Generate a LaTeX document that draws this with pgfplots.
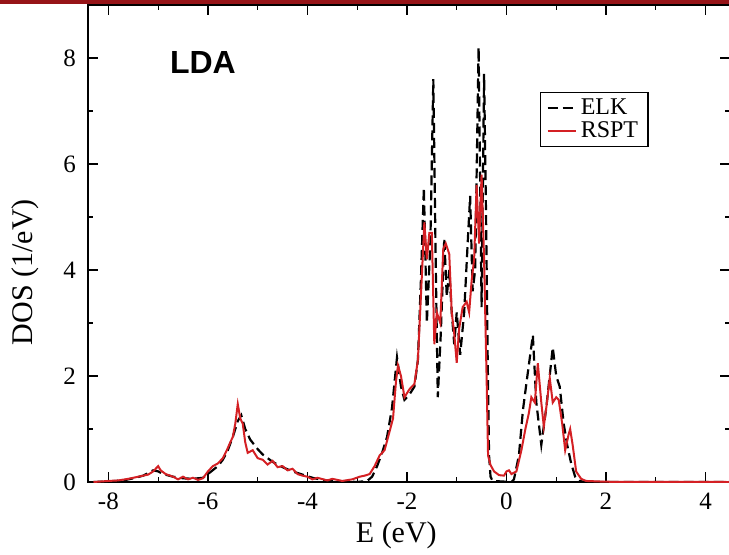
\documentclass[border=0pt]{standalone}
\usepackage{pgfplots}
\pgfplotsset{compat=1.18}
\usepackage{fontspec}
\setmainfont{Liberation Serif}
\newfontfamily\ldafont{Liberation Sans}
\definecolor{rsptred}{RGB}{212,32,36}
\definecolor{barred}{RGB}{150,20,24}
\begin{document}
\begin{tikzpicture}
\begin{axis}[
  at={(0,0)}, anchor=south west,
  scale only axis, width=321.2pt, height=238.5pt,
  xmin=-8.41, xmax=4.5, ymin=0, ymax=9,
  xtick={-8,-6,-4,-2,0,2,4}, xticklabels={-8,-6,-4,-2,0,2,4},
  ytick={0,2,4,6,8}, yticklabels={0,2,4,6,8},
  minor x tick num=1, minor y tick num=1,
  major tick length=5pt, minor tick length=2.5pt,
  tick style={black, line width=0.6pt},
  axis line style={line width=0.75pt},
  ticklabel style={font=\fontsize{12.5}{14}\selectfont},
  xticklabel style={yshift=-2pt},
  yticklabel style={xshift=-2.5pt},
  xlabel={E (eV)}, ylabel={DOS (1/eV)},
  every axis x label/.style={at={(rel axis cs:0.48,-0.111)}, anchor=center, font=\fontsize{15}{18}\selectfont},
  every axis y label/.style={at={(rel axis cs:-0.098,0.44)}, anchor=center, rotate=90, font=\fontsize{15}{18}\selectfont},
  legend style={at={(axis cs:0.67,7.36)}, anchor=north west, draw=black, line width=0.75pt,
    font=\fontsize{12}{13}\selectfont, inner xsep=3pt, inner ysep=1pt, row sep=-2pt},
  legend cell align=left,
  legend image code/.code={\draw[#1] (0pt,0pt) -- (14pt,0pt);},
]
\addplot[black, line width=1.1pt, dash pattern=on 5pt off 2.5pt] coordinates {
(-8.3,0) (-8.0,0.01) (-7.7,0.03) (-7.5,0.07) (-7.3,0.12) (-7.1,0.22) (-7.0,0.2) (-6.9,0.15)
(-6.7,0.1) (-6.5,0.07) (-6.3,0.06) (-6.1,0.08) (-6.0,0.15) (-5.8,0.3) (-5.7,0.42) (-5.6,0.6)
(-5.5,0.85) (-5.4,1.15) (-5.33,1.26) (-5.25,1.0) (-5.15,0.8) (-5.0,0.62) (-4.9,0.52) (-4.7,0.38)
(-4.5,0.28) (-4.3,0.2) (-4.1,0.14) (-3.9,0.08) (-3.7,0.04) (-3.5,0.02) (-3.2,0.01) (-3.0,0.0)
(-2.8,0.02) (-2.7,0.1) (-2.6,0.3) (-2.5,0.55) (-2.4,0.85) (-2.3,1.4) (-2.2,2.35) (-2.12,1.8)
(-2.05,1.55) (-1.95,1.65) (-1.85,1.8) (-1.78,2.3) (-1.72,3.8) (-1.66,5.55) (-1.6,3.0) (-1.53,4.5)
(-1.47,7.6) (-1.42,4.0) (-1.38,1.6) (-1.32,2.8) (-1.25,4.6) (-1.2,3.5) (-1.15,4.0) (-1.1,3.2)
(-1.05,2.6) (-1.0,3.2) (-0.93,2.4) (-0.85,3.2) (-0.78,4.5) (-0.73,5.4) (-0.68,3.6) (-0.63,4.0)
(-0.56,8.2) (-0.5,3.3) (-0.45,7.7) (-0.41,5.0) (-0.38,2.5) (-0.35,0.5) (-0.32,0.1) (-0.28,0.02)
(0.1,0.0) (0.15,0.05) (0.25,0.5) (0.33,1.35) (0.42,2.0) (0.53,2.77) (0.6,1.5) (0.7,0.7)
(0.8,1.4) (0.93,2.54) (1.0,2.0) (1.07,1.8) (1.15,1.1) (1.22,0.7) (1.3,0.35) (1.38,0.1)
(1.45,0.02) (1.6,0) (4.5,0)
};
\addlegendentry{ELK}
\addplot[rsptred, line width=1pt] coordinates {
(-8.3,0) (-8.0,0.02) (-7.8,0.03) (-7.6,0.06) (-7.4,0.1) (-7.2,0.14) (-7.1,0.2) (-7.0,0.3)
(-6.95,0.22) (-6.85,0.15) (-6.7,0.1) (-6.6,0.05) (-6.5,0.1) (-6.4,0.05) (-6.3,0.08) (-6.2,0.04)
(-6.1,0.07) (-6.0,0.2) (-5.9,0.3) (-5.8,0.35) (-5.7,0.45) (-5.62,0.6) (-5.55,0.75) (-5.5,0.85)
(-5.45,1.1) (-5.4,1.47) (-5.35,1.2) (-5.3,1.1) (-5.25,0.75) (-5.2,0.55) (-5.1,0.6) (-5.0,0.45)
(-4.9,0.42) (-4.8,0.33) (-4.7,0.4) (-4.6,0.28) (-4.5,0.3) (-4.4,0.22) (-4.3,0.25) (-4.2,0.15)
(-4.1,0.12) (-4.0,0.1) (-3.9,0.05) (-3.8,0.08) (-3.6,0.03) (-3.5,0.06) (-3.3,0.02) (-3.1,0.05)
(-2.95,0.1) (-2.85,0.12) (-2.75,0.15) (-2.65,0.3) (-2.55,0.5) (-2.45,0.6) (-2.35,0.95) (-2.28,1.2)
(-2.22,1.9) (-2.18,2.2) (-2.12,2.0) (-2.05,1.6) (-1.95,1.75) (-1.85,1.85) (-1.78,2.3) (-1.72,3.5)
(-1.65,4.9) (-1.6,4.2) (-1.55,4.7) (-1.5,4.7) (-1.45,2.6) (-1.4,3.2) (-1.33,3.0) (-1.27,4.4)
(-1.22,4.5) (-1.15,4.3) (-1.1,3.2) (-1.05,2.8) (-1.0,2.25) (-0.95,2.9) (-0.88,3.3) (-0.8,3.4)
(-0.75,3.2) (-0.7,3.8) (-0.65,4.2) (-0.6,5.6) (-0.55,4.5) (-0.5,5.8) (-0.45,4.2) (-0.4,2.0)
(-0.37,0.5) (-0.32,0.32) (-0.25,0.2) (-0.15,0.13) (-0.05,0.12) (0.0,0.2) (0.05,0.22) (0.1,0.15)
(0.2,0.2) (0.3,0.6) (0.38,1.0) (0.45,1.3) (0.5,1.6) (0.57,1.5) (0.63,2.24) (0.7,1.5)
(0.75,1.05) (0.8,1.4) (0.87,1.96) (0.93,1.5) (1.0,1.6) (1.05,1.55) (1.12,1.1) (1.18,0.6)
(1.25,0.9) (1.28,1.0) (1.33,0.7) (1.4,0.2) (1.5,0.06) (1.6,0.02) (2.0,0.005) (4.5,0)
};
\addlegendentry{RSPT}
\node[font=\ldafont\bfseries\fontsize{16}{18}\selectfont] at (axis cs:-6.1,7.91) {LDA};
\end{axis}
\fill[barred] (-44pt,239.2pt) rectangle (320.5pt,241pt);
\pgfresetboundingbox
\path[use as bounding box] (-44pt,-36pt) rectangle (320.5pt,241pt);
\end{tikzpicture}
\end{document}
